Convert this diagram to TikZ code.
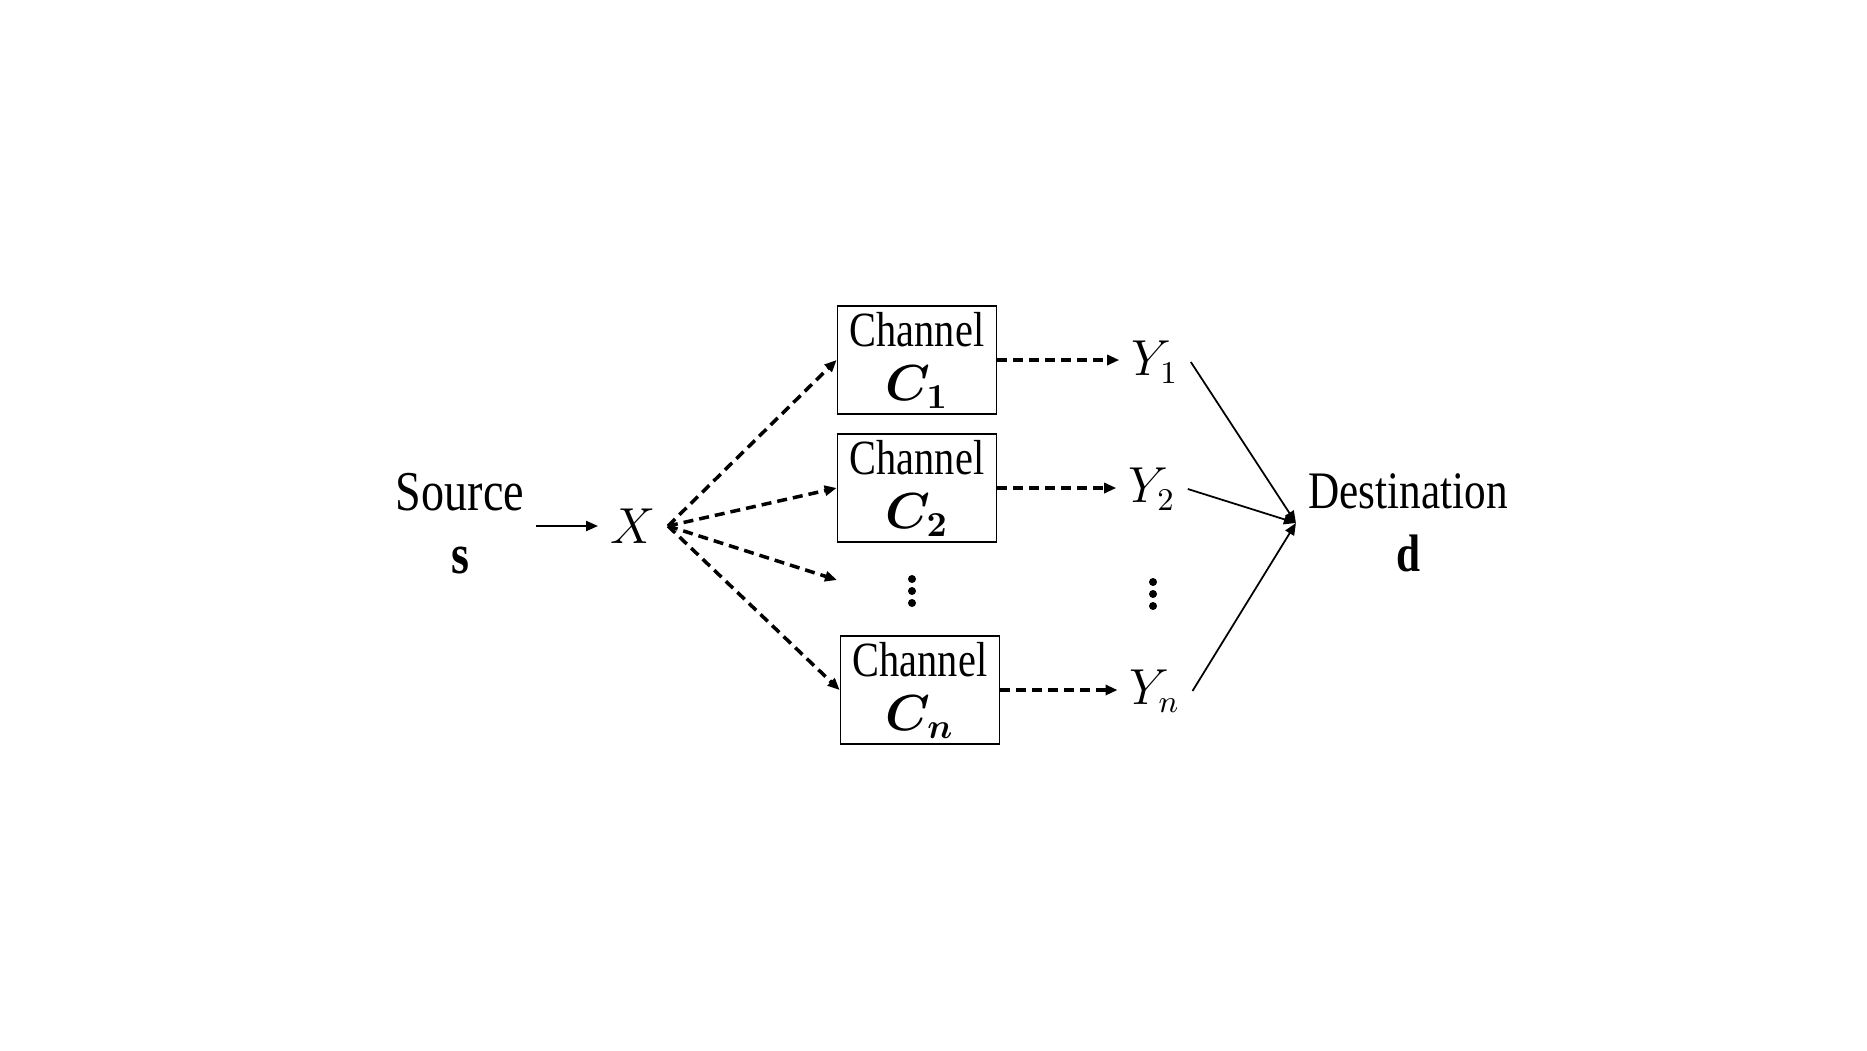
\documentclass[tikz,border=0pt]{standalone}
\usepackage{amsmath}
\usepackage{fontspec}
\setmainfont[FakeStretch=0.82]{Liberation Serif}
\usetikzlibrary{arrows.meta}

\begin{document}
\begin{tikzpicture}[x=0.1mm, y=-0.1mm,
        chan/.style={draw, line width=0.5pt, minimum width=15.9mm, minimum height=10.8mm,
            align=center, inner sep=0pt, font=\fontsize{14}{15.5}\selectfont},
        dasharrow/.style={dash pattern=on 1mm off 0.6mm, line width=1pt,
            -{Triangle[length=1.2mm, width=1mm]}},
        solidarrow/.style={line width=0.5pt, -{Triangle[length=1.2mm, width=1mm]}},
        mathlabel/.style={font=\fontsize{13.5}{15}\selectfont},
        endlabel/.style={align=center}]
        % Fix the frame
        \useasboundingbox (0,0) rectangle (1867,1050);

        % Draw source and destination
        \node[endlabel, font=\fontsize{16}{18}\selectfont] (src) at (460,524) {Source\\\textbf{s}};
        \node[endlabel, font=\fontsize{15}{18}\selectfont] (dest) at (1408,523) {Destination\\\textbf{d}};

        % Draw input and outputs
        \node[mathlabel] (x) at (633,526) {$X$};
        \node[mathlabel] (y1) at (1155,362) {$Y_1$};
        \node[mathlabel] (y2) at (1152,489) {$Y_2$};
        \node[mathlabel] (yn) at (1155,691) {$Y_n$};

        % Draw channels
        \node[chan] (c1) at (917,360) {Channel\\$\boldsymbol{C_1}$};
        \node[chan] (c2) at (917,488) {Channel\\$\boldsymbol{C_2}$};
        \node[chan] (cn) at (920,690) {Channel\\$\boldsymbol{C_n}$};

        % Draw dots
        \coordinate (dots1) at (912,591);
        \coordinate (dots2) at (1153,594);
        \foreach \d in {dots1,dots2}
            \foreach \k in {-12,0,12}
                \fill ([yshift=-\k*0.1mm]\d) circle (0.4mm);
        \coordinate (gap) at (837,580);

        % Draw arrows
        \draw[solidarrow, line width=0.6pt] (src.east |- x) -- (x);
        \foreach \c in {c1,c2,cn}
            \draw[dasharrow] (x.east) -- (\c.west);
        \draw[dasharrow] (x.east) -- (gap);
        \draw[dasharrow] (c1.east) -- (c1.east -| y1.west);
        \draw[dasharrow] (c2.east) -- (c2.east -| y2.west);
        \draw[dasharrow] (cn.east) -- (cn.east -| yn.west);
        \foreach \i in {1,2,n}
            \draw[solidarrow] (y\i.east) -- (dest.west);
    \end{tikzpicture}
\end{document}
